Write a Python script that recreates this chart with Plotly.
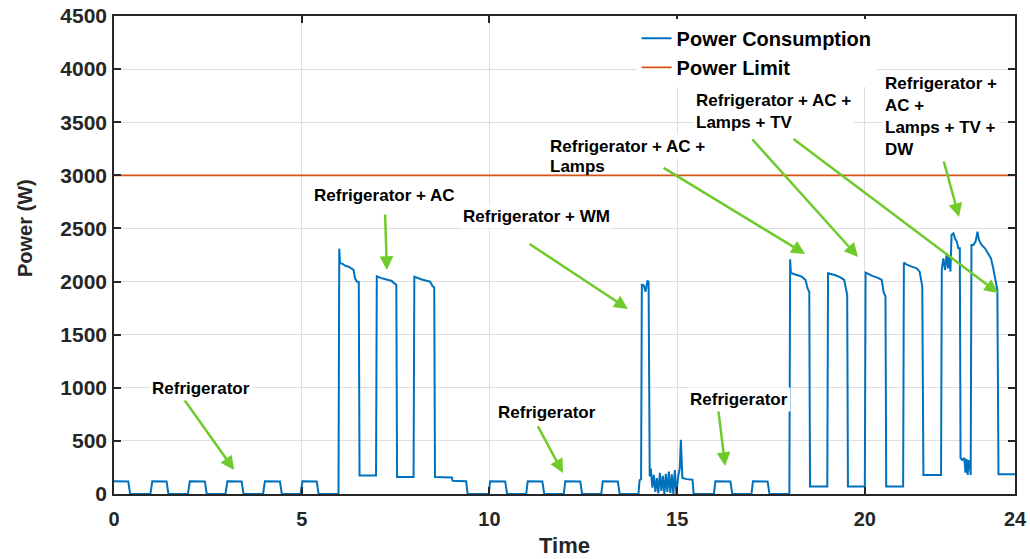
import plotly.graph_objects as go

# ---------------- data ----------------
time_h = [
    0.00, 0.38, 0.43, 0.97, 1.02, 1.40, 1.45, 1.97, 2.02, 2.42, 2.47, 2.97, 3.02, 3.40, 3.45,
    3.97, 4.02, 4.42, 4.47, 4.97, 5.02, 5.40, 5.45, 5.98,
    6.00, 6.02, 6.10, 6.15, 6.25, 6.30, 6.38, 6.42, 6.47, 6.52, 6.54, 6.98,
    7.00, 7.10, 7.20, 7.30, 7.40, 7.46, 7.52, 7.54, 7.98,
    8.00, 8.10, 8.20, 8.30, 8.42, 8.48, 8.53, 8.55, 9.00, 9.02, 9.38, 9.42, 9.98,
    10.02, 10.42, 10.47, 10.98, 11.02, 11.41, 11.46, 11.98, 12.02, 12.42, 12.47, 12.98,
    13.02, 13.42, 13.47, 13.97,
    14.00, 14.04, 14.06, 14.11, 14.16, 14.21, 14.24, 14.27,
    14.30, 14.34, 14.38, 14.42, 14.46, 14.50, 14.54, 14.58, 14.62, 14.66,
    14.70, 14.74, 14.78, 14.82, 14.86, 14.90, 14.94, 14.98,
    15.03, 15.07, 15.10, 15.14, 15.25, 15.41, 15.44, 15.98,
    16.02, 16.42, 16.47, 16.98, 17.02, 17.41, 17.46, 17.99,
    18.01, 18.03, 18.19, 18.32, 18.42, 18.48, 18.52, 18.54, 19.00,
    19.02, 19.20, 19.35, 19.45, 19.50, 19.53, 19.55, 20.00,
    20.02, 20.20, 20.35, 20.45, 20.50, 20.55, 20.57, 21.02,
    21.04, 21.12, 21.25, 21.38, 21.46, 21.53, 21.56, 22.03,
    22.05, 22.09, 22.14, 22.18, 22.22, 22.25, 22.28, 22.31, 22.36, 22.40, 22.45, 22.49, 22.53,
    22.55, 22.60, 22.65, 22.68, 22.71, 22.74, 22.77, 22.80, 22.82,
    22.84, 22.89, 22.95, 23.00, 23.04, 23.11, 23.20, 23.29, 23.36, 23.42, 23.48, 23.53, 23.56, 24.00,
]
power_w = [
    120, 118, 0, 0, 120, 118, 0, 0, 120, 118, 0, 0, 120, 118, 0,
    0, 120, 118, 0, 0, 120, 118, 0, 0,
    2310, 2175, 2165, 2150, 2140, 2125, 2110, 2030, 2000, 1995, 175, 175,
    2050, 2035, 2025, 2015, 2005, 1985, 1970, 160, 160,
    2045, 2030, 2020, 2010, 2000, 1960, 1945, 160, 155, 125, 120, 0, 0,
    120, 118, 0, 0, 120, 118, 0, 0, 120, 118, 0, 0,
    120, 118, 0, 0,
    130, 140, 1970, 1965, 1905, 2010, 1995, 165,
    240, 60, 180, 20, 150, 5, 200, 30, 170, 0,
    190, 20, 210, 10, 185, 0, 225, 0,
    170, 240, 510, 150, 140, 135, 0, 0,
    120, 118, 0, 0, 120, 118, 0, 0,
    2210, 2080, 2062, 2046, 2015, 1930, 1905, 70, 70,
    2078, 2062, 2040, 2015, 1900, 1874, 70, 70,
    2084, 2053, 2035, 2015, 1900, 1860, 70, 70,
    2178, 2160, 2140, 2125, 2093, 1953, 179, 179,
    2109, 2219, 2109, 2266, 2125, 2250, 2094, 2439, 2455, 2407, 2376, 2313, 2313,
    336, 320, 340, 200, 330, 180, 320, 260, 180,
    2345, 2345, 2376, 2470, 2392, 2345, 2313, 2266, 2219, 2125, 1999, 1921, 185, 185,
]
limit_time = [0, 24]
limit_power = [3000, 3000]

x_ticks = [0, 5, 10, 15, 20, 24]
y_ticks = [0, 500, 1000, 1500, 2000, 2500, 3000, 3500, 4000, 4500]

# label texts, anchored at left edge / vertical middle
label_texts = [
    "Refrigerator",
    "Refrigerator + AC",
    "Refrigerator + WM",
    "Refrigerator",
    "Refrigerator",
    "Refrigerator + AC +",
    "Lamps",
    "Refrigerator + AC +<br>Lamps + TV",
    "Refrigerator +<br>AC +<br>Lamps + TV +<br>DW",
]
label_x = [0.93, 5.25, 9.22, 10.15, 15.26, 11.53, 11.53, 15.42, 20.46]
label_y = [989, 2806, 2608, 763, 885, 3267, 3079, 3597, 3550]
label_bg = ["white", "white", "white", "white", "white", "white",
            "rgba(0,0,0,0)", "white", "white"]

# arrows: tail (ax, ay) -> tip (x, y)
arrow_tail_x = [1.84, 7.22, 11.03, 11.27, 16.09, 14.60, 16.97, 18.06, 21.90]
arrow_tail_y = [904, 2646, 2363, 650, 810, 3079, 3352, 3352, 3390]
arrow_tip_x = [3.20, 7.27, 13.69, 11.96, 16.28, 18.41, 19.82, 23.55, 22.51]
arrow_tip_y = [226, 2109, 1742, 198, 264, 2260, 2232, 1893, 2608]

# ---------------- figure ----------------
FONT = "Liberation Sans, Arial, sans-serif"
DARK = "#262626"
GREEN = "#6fcb2c"

fig = go.Figure()
fig.add_trace(go.Scatter(x=time_h, y=power_w, mode="lines", name="Power Consumption",
                         line=dict(color="#0072BD", width=2)))
fig.add_trace(go.Scatter(x=limit_time, y=limit_power, mode="lines", name="Power Limit",
                         line=dict(color="#D95319", width=1.6)))

annotations = []
for tx, ty, hx, hy in zip(arrow_tail_x, arrow_tail_y, arrow_tip_x, arrow_tip_y):
    annotations.append(dict(x=hx, y=hy, ax=tx, ay=ty, xref="x", yref="y", axref="x", ayref="y",
                            text="", showarrow=True, arrowhead=2, arrowsize=1.1,
                            arrowwidth=2.5, arrowcolor=GREEN, standoff=0))
for t, lx, ly, bg in zip(label_texts, label_x, label_y, label_bg):
    annotations.append(dict(x=lx, y=ly, xref="x", yref="y", text=t, showarrow=False,
                            xanchor="left", yanchor="middle", align="left",
                            bgcolor=bg, borderpad=2,
                            font=dict(family=FONT, size=17, color="black", weight="bold")))
annotations.append(dict(x=-0.099, y=0.556, xref="paper", yref="paper", text="Power (W)",
                        textangle=-90, showarrow=False, xanchor="center", yanchor="middle",
                        font=dict(family=FONT, size=20, color=DARK, weight="bold")))
annotations.append(dict(x=0.5, y=-0.108, xref="paper", yref="paper", text="Time",
                        showarrow=False, xanchor="center", yanchor="middle",
                        font=dict(family=FONT, size=22, color=DARK, weight="bold")))

axis_common = dict(showgrid=True, gridcolor="#dedede", gridwidth=1, ticks="inside",
                   ticklen=7, tickwidth=1.5, tickcolor=DARK, showline=True, linecolor=DARK,
                   linewidth=1.5, mirror="ticks", zeroline=False, automargin=False)

fig.update_layout(
    width=1030, height=559,
    margin=dict(l=114, r=15, t=16, b=65, autoexpand=False),
    paper_bgcolor="white", plot_bgcolor="white",
    xaxis=dict(range=[0, 24], tickvals=x_ticks, ticklabelstandoff=6,
               tickfont=dict(family=FONT, size=20, color=DARK, weight="bold"),
               **axis_common),
    yaxis=dict(range=[0, 4500], tickvals=y_ticks, ticklabelstandoff=1,
               tickfont=dict(family=FONT, size=21, color=DARK, weight="bold"),
               **axis_common),
    legend=dict(x=0.58, y=0.994, xanchor="left", yanchor="top", bgcolor="white",
                borderwidth=0, itemwidth=30, tracegroupgap=0,
                font=dict(family=FONT, size=20, color="black", weight="bold")),
    annotations=annotations,
    showlegend=True,
)

fig.write_html("out.html", config={"displayModeBar": False},
               post_script="document.body.style.margin='0';")
